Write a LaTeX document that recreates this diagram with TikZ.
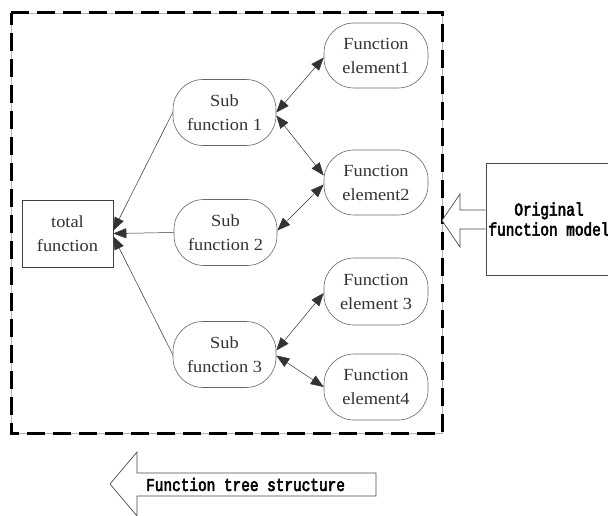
\documentclass[tikz,border=0pt]{standalone}
\usepackage{fontspec}
\setmainfont{Liberation Serif}
\newfontfamily\lblfont[FakeStretch=1.08]{Liberation Serif}
\newfontfamily\boldfont[FakeStretch=0.8, FakeBold=3]{Liberation Mono}
\usetikzlibrary{arrows.meta}
\tikzset{
  lbl/.style={font={\lblfont\fontsize{17}{24}\selectfont}, text=black!80},
  bold lbl/.style={font={\boldfont\fontsize{18}{20}\selectfont}},
  oval box/.style={lbl, draw=black!60, line width=0.6pt, rounded corners=30pt,
    minimum width=103pt, minimum height=66pt, inner sep=0pt, align=center},
  plain box/.style={lbl, draw=black!75, line width=0.6pt,
    minimum width=91pt, minimum height=67pt, inner sep=0pt, align=center},
  both link/.style={draw=black!80, line width=0.5pt, {Triangle[length=13pt,width=10pt]}-{Triangle[length=13pt,width=10pt]}},
  up link/.style={draw=black!80, line width=0.5pt, -{Triangle[length=13pt,width=10pt]}},
  hollow arrow/.style={draw=black!70, line width=0.7pt, fill=white},
  frame/.style={draw=black, line width=3pt, dash pattern=on 18pt off 8pt}
}
\begin{document}
\begin{tikzpicture}[x=1pt,y=-1pt]
  \useasboundingbox (0,0) rectangle (608,516);
  \clip (0,0) rectangle (608,516);
  \fill[white] (0,0) rectangle (608,516);

  % dashed border of the function tree
  \draw[black!30, line width=0.6pt] (11,13) rectangle (442,433);
  \draw[frame] (11,13) -- (442,13) -- (442,433) -- (11,433) -- cycle;

  % nodes
  \node[plain box] (tot) at (67.5,233.5) {total\\function};
  \node[oval box] (s1) at (224.5,112.5) {Sub\\function 1};
  \node[oval box] (s2) at (225.5,232.5) {Sub\\function 2};
  \node[oval box] (s3) at (224.5,354.5) {Sub\\function 3};
  \node[oval box, minimum width=104pt, minimum height=65pt] (e1) at (376,55.5) {Function\\element1};
  \node[oval box, minimum width=104pt, minimum height=65pt] (e2) at (376,182.5) {Function\\element2};
  \node[oval box, minimum width=104pt, minimum height=67pt] (e3) at (376,291.5) {Function\\element 3};
  \node[oval box, minimum width=104pt, minimum height=66pt] (e4) at (376,387) {Function\\element4};

  % sub functions feed the total function
  \draw[up link] (s1.west) -- ([yshift=3pt]tot.east);
  \draw[up link] (s2.west) -- (tot.east);
  \draw[up link] (s3.west) -- ([yshift=-3pt]tot.east);

  % sub functions and their elements
  \draw[both link] (s1.east) -- ([yshift=-2pt]e1.west);
  \draw[both link] ([yshift=-3pt]s1.east) -- ([yshift=7pt]e2.west);
  \draw[both link] ([yshift=-2pt]e2.west) -- ([yshift=2pt]s2.east);
  \draw[both link] ([yshift=4pt]s3.east) -- ([yshift=-1.5pt]e3.west);
  \draw[both link] ([yshift=-1pt]s3.east) -- (e4.west);

  % original model on the right
  \node[bold lbl, draw=black!70, line width=0.7pt, minimum width=126pt, minimum height=112pt,
        inner sep=0pt, align=center, text depth=0pt] (orig) at (549,219) {Original\\function model};
  \draw[hollow arrow] (orig.west |- 0,210) -- (460,210) -- (460,194) -- (442,220.5)
        -- (460,247) -- (460,229) -- (orig.west |- 0,229);

  % arrow naming the result
  \draw[hollow arrow] (376,473) -- (137,473) -- (137,452) -- (110,484) -- (137,516)
        -- (137,496) -- (376,496) -- cycle;
  \node[bold lbl, anchor=west, inner sep=0pt] (tree) at (146,484.5) {Function tree structure};
\end{tikzpicture}
\end{document}
